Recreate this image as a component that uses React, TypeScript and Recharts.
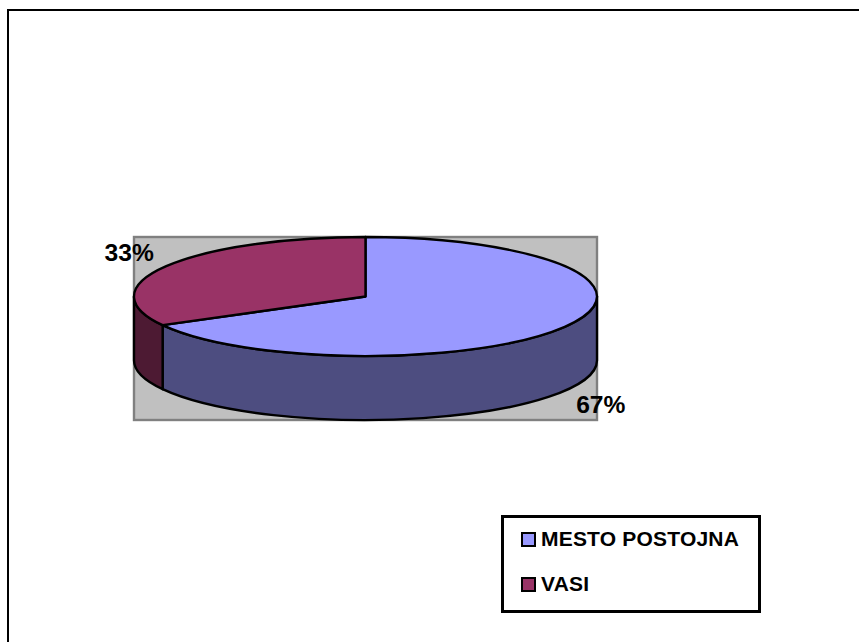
import { PieChart, Pie, Legend } from "recharts";

const sliceNames = ["MESTO POSTOJNA", "VASI"];
const sliceValues = [67, 33];
const topColors = ["#9999FF", "#993366"];
const wallColors = ["#4D4D80", "#4D1A33"];

const pieData = sliceNames.map((name, i) => ({ name, value: sliceValues[i], fill: topColors[i] }));

const WIDTH = 859;
const HEIGHT = 642;
const CX = 365.5;
const CY = 296.5;
const RX = 231.5;
const RY = 59.5;
const DEPTH = 64;

const rad = (deg: number) => (deg * Math.PI) / 180;
const px = (a: number) => CX + RX * Math.cos(rad(a));
const py = (a: number) => CY - RY * Math.sin(rad(a));

// top face of a slice, squashed into an ellipse
function topPath(start: number, end: number) {
  const large = Math.abs(start - end) > 180 ? 1 : 0;
  return `M${CX},${CY} L${px(start)},${py(start)} A${RX},${RY} 0 ${large} 1 ${px(end)},${py(end)} Z`;
}

// only the front half of the rim is visible (angles 0 to -180)
function wallPath(start: number, end: number) {
  const a = Math.min(start, 0);
  const b = Math.max(end, -180);
  if (a <= b) return null;
  return (
    `M${px(a)},${py(a)} A${RX},${RY} 0 0 1 ${px(b)},${py(b)} ` +
    `L${px(b)},${py(b) + DEPTH} A${RX},${RY} 0 0 0 ${px(a)},${py(a) + DEPTH} Z`
  );
}

// eslint-disable-next-line @typescript-eslint/no-explicit-any
function renderSlice(props: any) {
  const { startAngle, endAngle, fill, index } = props;
  const i = index ?? topColors.indexOf(fill);
  const wall = wallPath(startAngle, endAngle);
  return (
    <g>
      {wall && <path d={wall} fill={wallColors[i]} stroke="#000" strokeWidth={2.4} strokeLinejoin="round" />}
      <path d={topPath(startAngle, endAngle)} fill={fill} stroke="#000" strokeWidth={2.4} strokeLinejoin="round" />
    </g>
  );
}

// eslint-disable-next-line @typescript-eslint/no-explicit-any
function renderLabel(props: any) {
  const { midAngle, percent } = props;
  const right = Math.cos(rad(midAngle)) > 0;
  const front = Math.sin(rad(midAngle)) < 0;
  const x = px(midAngle) + (right ? 36 : -37);
  const y = py(midAngle) + (front ? DEPTH + 22 : -5.5);
  return (
    <text x={x} y={y} textAnchor="middle" fontFamily="Liberation Sans" fontWeight="bold" fontSize={24.6} fill="#000">
      {`${Math.round(percent * 100)}%`}
    </text>
  );
}

// eslint-disable-next-line @typescript-eslint/no-explicit-any
function renderLegend(props: any) {
  const items = props.payload ?? [];
  return (
    <div style={{ position: "relative", width: "100%", height: "100%" }}>
      {/* eslint-disable-next-line @typescript-eslint/no-explicit-any */}
      {items.map((item: any, i: number) => (
        <div
          key={item.value}
          style={{ position: "absolute", left: 17, top: 11 + i * 45, height: 20, display: "flex", alignItems: "center" }}
        >
          <span
            style={{
              display: "inline-block",
              boxSizing: "border-box",
              width: 15,
              height: 15,
              background: topColors[i],
              border: "2px solid #000",
              marginRight: 5,
            }}
          />
          <span
            style={{
              fontFamily: "Liberation Sans",
              fontWeight: "bold",
              fontSize: 21,
              letterSpacing: 0.2,
              color: "#000",
              whiteSpace: "nowrap",
            }}
          >
            {item.value}
          </span>
        </div>
      ))}
    </div>
  );
}

export default function App() {
  return (
    <div style={{ position: "absolute", left: 0, top: 0, width: WIDTH, height: HEIGHT, overflow: "hidden", background: "#fff" }}>
      <div style={{ position: "absolute", left: 7, top: 9, width: 852, height: 633, borderLeft: "2px solid #000", borderTop: "2px solid #000" }} />
      <PieChart width={WIDTH} height={HEIGHT} margin={{ top: 0, right: 0, bottom: 0, left: 0 }}>
        <rect x={CX - RX} y={CY - RY} width={RX * 2} height={RY * 2 + DEPTH} fill="#C0C0C0" stroke="#808080" strokeWidth={2.4} />
        <Pie
          data={pieData}
          dataKey="value"
          nameKey="name"
          cx={CX}
          cy={CY}
          outerRadius={RX}
          startAngle={90}
          endAngle={-270}
          shape={renderSlice}
          label={renderLabel}
          labelLine={false}
          isAnimationActive={false}
        />
        <Legend
          content={renderLegend}
          wrapperStyle={{
            position: "absolute",
            left: 501,
            top: 515,
            bottom: "auto",
            width: 260,
            height: 98,
            boxSizing: "border-box",
            border: "3px solid #000",
            background: "#fff",
          }}
        />
      </PieChart>
    </div>
  );
}
